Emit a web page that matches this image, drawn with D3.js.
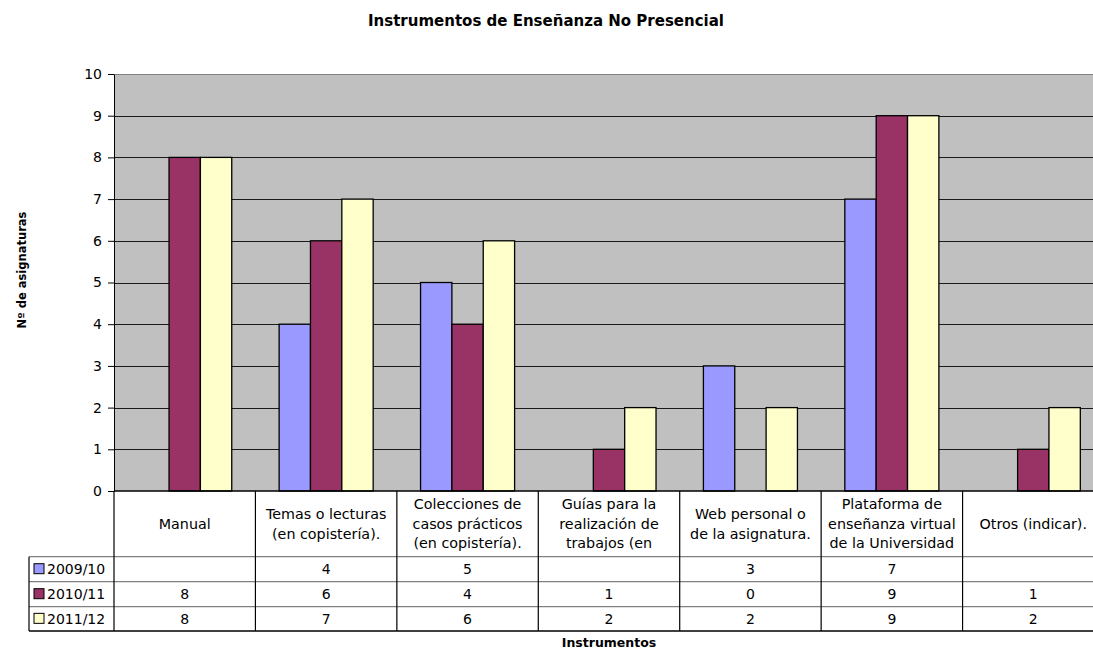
<!DOCTYPE html>
<meta charset="utf-8">
<script src="https://d3js.org/d3.v7.min.js"></script>
<html>
<head>
<style>
  body { margin: 0; background: #ffffff; }
  text { font-family: "DejaVu Sans", sans-serif; fill: #000; }
</style>
</head>
<body>
<div id="chart"></div>
<script>

// ---- data ----
var categories = [
  ["Manual"],
  ["Temas o lecturas", "(en copistería)."],
  ["Colecciones de", "casos prácticos", "(en copistería)."],
  ["Guías para la", "realización de", "trabajos (en"],
  ["Web personal o", "de la asignatura."],
  ["Plataforma de", "enseñanza virtual", "de la Universidad"],
  ["Otros (indicar)."]
];
var seriesNames = ["2009/10", "2010/11", "2011/12"];
var v2009 = [null, 4, 5, null, 3, 7, null];
var v2010 = [8, 6, 4, 1, 0, 9, 1];
var v2011 = [8, 7, 6, 2, 2, 9, 2];
var yTicks = [0, 1, 2, 3, 4, 5, 6, 7, 8, 9, 10];
var colors = ["#9999FF", "#993366", "#FFFFCC"];

var allSeries = [v2009, v2010, v2011];

// ---- layout ----
var W = 1093, H = 649;
var plot = {left: 114, right: 1104, top: 74, bottom: 491};
var rowY = [491, 556.7, 581.7, 606.7, 631];
var legendLeft = 29;

var svg = d3.select("#chart").append("svg")
  .attr("width", W).attr("height", H);

var x = d3.scaleBand()
  .domain(d3.range(categories.length))
  .range([plot.left, plot.right])
  .padding(0);

var bw = x.bandwidth();
var x1 = d3.scaleBand()
  .domain(seriesNames)
  .range([bw * 0.1675, bw * 0.8325])
  .padding(0);

var y = d3.scaleLinear()
  .domain([0, 10])
  .range([plot.bottom, plot.top]);

// plot background
svg.append("rect")
  .attr("x", plot.left).attr("y", plot.top)
  .attr("width", plot.right - plot.left).attr("height", plot.bottom - plot.top)
  .attr("fill", "#C0C0C0");

// gridlines
svg.append("g").selectAll("line")
  .data(yTicks.filter(function(d) { return d > 0; }))
  .enter().append("line")
    .attr("x1", plot.left).attr("x2", plot.right)
    .attr("y1", function(d) { return Math.round(y(d)) + 0.5; })
    .attr("y2", function(d) { return Math.round(y(d)) + 0.5; })
    .attr("stroke", function(d) { return d === 10 ? "#808080" : "#1a1a1a"; })
    .attr("stroke-width", 1.2);

// bars
seriesNames.forEach(function(s, si) {
  svg.append("g").selectAll("rect")
    .data(allSeries[si].map(function(v, i) { return {i: i, v: v}; })
      .filter(function(d) { return d.v !== null && d.v > 0; }))
    .enter().append("rect")
      .attr("x", function(d) { return x(d.i) + x1(s); })
      .attr("y", function(d) { return y(d.v); })
      .attr("width", x1.bandwidth())
      .attr("height", function(d) { return y(0) - y(d.v); })
      .attr("fill", colors[si])
      .attr("stroke", "#000")
      .attr("stroke-width", 1.3);
});

// y axis
var yAxis = svg.append("g")
  .attr("transform", "translate(" + plot.left + ",0)")
  .call(d3.axisLeft(y).tickValues(yTicks).tickSize(6).tickSizeOuter(0).tickPadding(6));
yAxis.select(".domain").attr("stroke", "#000");
yAxis.selectAll(".tick line").attr("stroke", "#000");
yAxis.selectAll("text")
  .style("font-family", "DejaVu Sans, sans-serif")
  .style("font-size", "14px").attr("fill", "#000");

// ---- data table ----
var table = svg.append("g");

// horizontal lines
rowY.slice(1).forEach(function(ry, k) {
  table.append("line")
    .attr("x1", legendLeft).attr("x2", plot.right)
    .attr("y1", ry).attr("y2", ry)
    .attr("stroke", k === 3 ? "#000" : "#808080")
    .attr("stroke-width", 1.3);
});
table.append("line")
  .attr("x1", plot.left).attr("x2", plot.right)
  .attr("y1", plot.bottom).attr("y2", plot.bottom)
  .attr("stroke", "#000").attr("stroke-width", 1.5);

// vertical lines
d3.range(categories.length + 1).forEach(function(i) {
  var xx = i < categories.length ? x(i) : plot.right;
  table.append("line")
    .attr("x1", xx).attr("x2", xx)
    .attr("y1", plot.bottom).attr("y2", rowY[4])
    .attr("stroke", "#000").attr("stroke-width", 1.2);
});
table.append("line")
  .attr("x1", legendLeft).attr("x2", legendLeft)
  .attr("y1", rowY[1]).attr("y2", rowY[4])
  .attr("stroke", "#000").attr("stroke-width", 1.2);

// category header text
categories.forEach(function(lines, i) {
  var cx = x(i) + bw / 2;
  var cy = (rowY[0] + rowY[1]) / 2;
  var lh = 19.5;
  var t = table.append("text")
    .attr("text-anchor", "middle")
    .style("font-size", "14.3px");
  lines.forEach(function(l, k) {
    t.append("tspan")
      .attr("x", cx)
      .attr("y", cy + (k - (lines.length - 1) / 2) * lh + 5)
      .text(l);
  });
});

// value rows + legend keys
seriesNames.forEach(function(s, si) {
  var cy = (rowY[si + 1] + rowY[si + 2]) / 2;
  table.append("rect")
    .attr("x", 34).attr("y", cy - 5.5)
    .attr("width", 10).attr("height", 10)
    .attr("fill", colors[si]).attr("stroke", "#000").attr("stroke-width", 1);
  table.append("text")
    .attr("x", 47).attr("y", cy + 5)
    .style("font-size", "14px")
    .text(s);
  allSeries[si].forEach(function(v, i) {
    if (v === null) return;
    table.append("text")
      .attr("x", x(i) + bw / 2).attr("y", cy + 5)
      .attr("text-anchor", "middle")
      .style("font-size", "14px")
      .text(v);
  });
});

// titles
svg.append("text")
  .attr("x", 546).attr("y", 26)
  .attr("text-anchor", "middle")
  .style("font-size", "15px").style("font-weight", "bold")
  .text("Instrumentos de Enseñanza No Presencial");

svg.append("text")
  .attr("x", (plot.left + plot.right) / 2).attr("y", 647)
  .attr("text-anchor", "middle")
  .style("font-size", "12.5px").style("font-weight", "bold")
  .text("Instrumentos");

svg.append("text")
  .attr("transform", "translate(26,270) rotate(-90)")
  .attr("text-anchor", "middle")
  .style("font-size", "11.5px").style("font-weight", "bold")
  .text("Nº de asignaturas");

</script>
</body>
</html>
